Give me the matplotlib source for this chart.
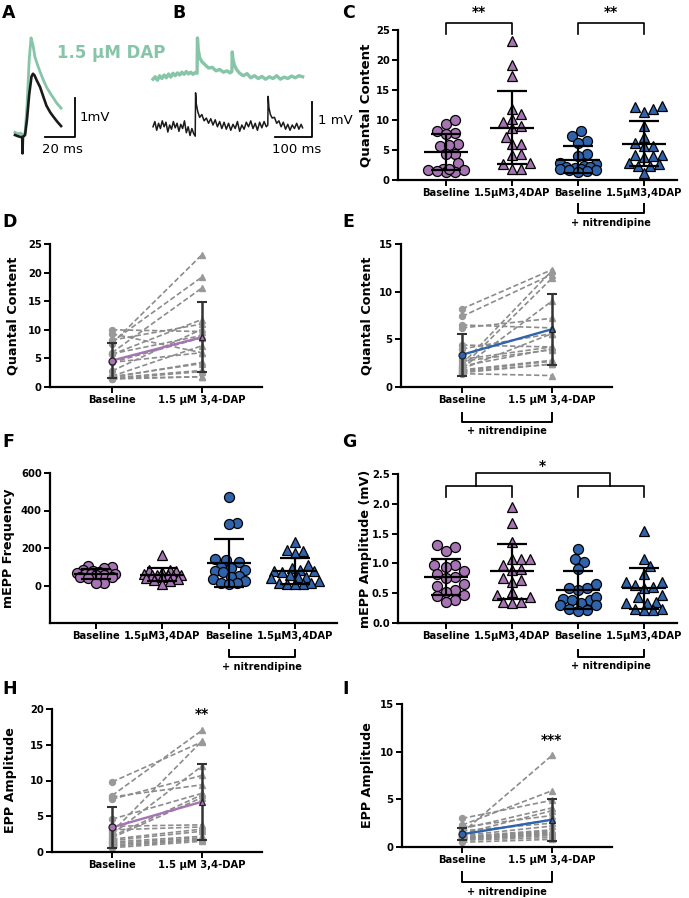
import numpy as np
import matplotlib
matplotlib.use('Agg')
import matplotlib.pyplot as plt

plt.rcParams['font.family'] = 'DejaVu Sans'
plt.rcParams['font.weight'] = 'bold'

# ---- data ----
# quantal content (paired order: baseline[i] -> dap[i])
qc_base = [9.3, 10.0, 7.9, 8.2, 7.6, 6.0, 5.7, 5.8, 4.3, 4.3, 2.8, 1.9, 1.7, 1.4, 1.4, 1.8, 1.5, 1.6]
qc_dap = [6.0, 9.7, 19.2, 11.0, 23.1, 17.3, 11.8, 9.0, 8.6, 6.0, 10.1, 7.2, 4.3, 2.7, 1.8, 4.1, 1.8, 2.9]
qc_nit_base = [8.2, 7.4, 6.5, 6.2, 4.4, 4.0, 2.9, 2.7, 2.4, 2.2, 2.1, 2.0, 1.9, 1.8, 1.7, 1.6, 1.5, 1.4]
qc_nit_dap = [12.3, 11.8, 6.2, 7.2, 4.2, 5.6, 4.2, 3.9, 12.2, 4.0, 11.4, 9.0, 5.6, 2.8, 2.7, 2.4, 2.4, 1.2]

# mEPP frequency
freq_base = [104, 100, 91, 82, 75, 70, 65, 64, 62, 61, 60, 58, 55, 45, 43, 40, 16, 11]
freq_dap = [162, 82, 82, 80, 73, 60, 58, 55, 55, 55, 52, 46, 40, 35, 29, 25, 7]
freq_nit_base = [470, 335, 330, 140, 135, 125, 100, 95, 85, 80, 70, 50, 45, 35, 25, 15, 12, 10]
freq_nit_dap = [230, 190, 185, 175, 110, 95, 85, 80, 75, 70, 55, 48, 45, 38, 25, 15, 12, 10, 8, 6]

# mEPP amplitude (mV)
amp_base = [1.31, 1.28, 1.21, 0.98, 0.98, 0.94, 0.87, 0.83, 0.78, 0.66, 0.62, 0.55, 0.52, 0.47, 0.45, 0.38, 0.35, 0.75]
amp_dap = [1.95, 1.67, 1.36, 1.08, 1.08, 1.08, 0.97, 0.89, 0.91, 0.72, 0.75, 0.69, 0.47, 0.52, 0.44, 0.35, 0.34, 0.35]
amp_nit_base = [1.25, 1.07, 1.03, 0.91, 0.65, 0.58, 0.56, 0.59, 0.39, 0.41, 0.44, 0.38, 0.34, 0.30, 0.30, 0.24, 0.21, 0.20]
amp_nit_dap = [1.54, 1.08, 0.95, 0.83, 0.69, 0.69, 0.63, 0.60, 0.58, 0.47, 0.34, 0.33, 0.44, 0.35, 0.24, 0.22, 0.24, 0.21]

# EPP amplitude (paired)
epp_base = [9.8, 7.9, 7.7, 7.4, 4.6, 3.6, 3.1, 2.8, 2.5, 2.2, 2.0, 1.8, 1.6, 1.4, 1.2, 1.0, 0.8, 0.6]
epp_dap = [15.4, 17.0, 9.4, 10.7, 8.2, 3.8, 3.5, 15.5, 12.0, 8.0, 7.6, 3.2, 2.9, 2.2, 2.0, 1.8, 1.7, 1.5]
epp_nit_base = [3.0, 2.3, 2.1, 1.9, 1.7, 1.5, 1.4, 1.3, 1.2, 1.1, 1.0, 1.0, 0.9, 0.9, 0.8, 0.8, 0.7, 0.5]
epp_nit_dap = [4.9, 5.9, 3.3, 4.1, 2.5, 9.6, 3.8, 2.9, 2.2, 1.8, 1.7, 1.6, 1.5, 1.4, 1.3, 1.2, 1.0, 0.8]

# example traces (t in ms, v in mV)
trace_A_ctrl = [(0, 0.05), (2, 0.02), (3.8, 0.0), (4.8, 0.0), (5.0, -0.42), (5.3, 0.0), (6.7, 0.05),
                (8, 0.45), (9.5, 1.1), (11, 1.55), (12, 1.62), (13, 1.58), (14.5, 1.45), (16.7, 1.28),
                (19, 1.02), (21, 0.8), (23.5, 0.63), (25.6, 0.52), (28, 0.4), (30.7, 0.28)]
trace_A_dap = [(0, 0.12), (2, 0.08), (3.8, 0.1), (5, 0.05), (6.7, 0.1), (8, 0.8), (9.5, 2.0),
               (10.7, 2.54), (12, 2.35), (13.3, 2.05), (15, 1.85), (16.7, 1.67), (19, 1.45),
               (21, 1.28), (23.5, 1.12), (25.6, 1.0), (28, 0.86), (30.7, 0.74)]
trace_B_dap = [(0, -0.12), (6, -0.05), (12, -0.15), (18, -0.02), (24, -0.1), (30, 0.0), (36, -0.08),
               (42, 0.03), (48, -0.06), (54, 0.05), (60, -0.02), (66, 0.06), (72, 0.0), (78, 0.08),
               (84, 0.02), (90, 0.1), (96, 0.03), (102, 0.08), (108, 0.02), (114, 0.07), (119, 0.05),
               (120, 1.06), (122, 0.75), (126, 0.5), (132, 0.38), (140, 0.3), (150, 0.2), (160, 0.22),
               (170, 0.12), (180, 0.16), (190, 0.08), (200, 0.12), (208, 0.06), (213, 0.1), (214, 0.66),
               (216, 0.45), (220, 0.28), (226, 0.15), (234, 0.05), (244, -0.02), (254, 0.04),
               (264, -0.08), (274, -0.02), (284, -0.1), (294, -0.04), (304, -0.12), (314, -0.05),
               (324, -0.1), (334, -0.02), (344, -0.12), (354, -0.06), (364, -0.1), (374, -0.03),
               (384, -0.08), (394, -0.02), (404, -0.05)]
trace_B_ctrl = [(0, -0.05), (5, 0.1), (10, -0.15), (15, 0.05), (20, -0.1), (25, 0.12), (30, -0.05),
                (35, 0.08), (40, -0.2), (45, 0.0), (50, -0.12), (55, 0.1), (60, -0.08), (65, 0.05),
                (70, -0.18), (75, 0.02), (80, -0.1), (85, 0.12), (90, -0.22), (95, -0.05), (100, -0.3),
                (105, -0.1), (110, -0.25), (114, -0.32), (115, 0.92), (117, 0.6), (121, 0.38),
                (126, 0.22), (132, 0.3), (138, 0.12), (144, 0.2), (150, 0.05), (156, 0.18), (162, 0.0),
                (168, 0.15), (174, -0.05), (180, 0.1), (186, -0.1), (192, 0.08), (198, -0.12),
                (204, 0.05), (210, -0.15), (216, 0.02), (222, -0.1), (228, 0.1), (234, -0.18),
                (240, 0.0), (246, -0.12), (252, 0.08), (258, -0.05), (264, 0.12), (270, -0.1),
                (276, 0.05), (282, -0.15), (288, 0.08), (294, -0.08), (300, 0.1), (306, -0.05),
                (310, 0.0), (311, 0.82), (313, 0.5), (317, 0.3), (322, 0.2), (328, 0.22), (334, 0.05),
                (340, 0.12), (346, -0.05), (352, 0.08), (358, -0.12), (364, 0.02), (370, -0.15),
                (376, 0.0), (382, -0.1), (388, 0.05), (394, -0.12), (400, 0.02), (404, -0.08)]

four_labels = ['Baseline', '1.5µM3,4DAP', 'Baseline', '1.5µM3,4DAP']
two_labels = ['Baseline', '1.5 µM 3,4-DAP']

PURPLE = '#a674b3'
BLUE = '#2f64ad'
GREEN = '#86c5a8'
GREY = '#8c8c8c'

W, H = 689, 898
fig = plt.figure(figsize=(W / 100, H / 100), dpi=100)


def px_axes(left, top, right, bottom):
    return fig.add_axes([left / W, 1 - bottom / H, (right - left) / W, (bottom - top) / H])


def style(ax, xticks, xlabels, yticks, ylabel, label_dx, ylsize=9.2, fmt=None):
    for s in ['top', 'right']:
        ax.spines[s].set_visible(False)
    for s in ['left', 'bottom']:
        ax.spines[s].set_linewidth(1.6)
    ax.tick_params(width=1.4, length=4, labelsize=7.2, pad=2)
    ax.set_xticks(xticks)
    ax.set_xticklabels(xlabels)
    ax.set_yticks(yticks)
    if fmt:
        ax.set_yticklabels([fmt % v for v in yticks])
    ax.set_ylabel(ylabel, fontsize=ylsize, fontweight='bold', va='center')
    ax.yaxis.set_label_coords(label_dx, 0.5)


def swarm(ax, x0, vals, gap, maxw):
    # GraphPad-like scatter: spread points sideways, overlap allowed beyond maxw (pixels)
    vals = np.asarray(vals, float)
    pts = ax.transData.transform(np.column_stack([np.full(len(vals), x0), vals]))
    py = pts[:, 1]
    cx = pts[0, 0]
    cands = [0.0]
    k = 1
    while k * gap / 3 <= maxw:
        cands += [k * gap / 3, -k * gap / 3]
        k += 1
    offs = np.zeros(len(vals))
    placed = []
    for i in np.argsort(py):
        best, best_d = 0.0, -1
        for off in cands:
            d = min([np.hypot(off - po, py[i] - pp) for po, pp in placed] + [1e9])
            if d >= gap:
                best = off
                break
            if d > best_d:
                best, best_d = off, d
        placed.append((best, py[i]))
        offs[i] = best
    back = ax.transData.inverted().transform(np.column_stack([cx + offs, py]))
    return back[:, 0]


def scatter_group(ax, x0, vals, marker, color, gap=9, maxw=18):
    xs = swarm(ax, x0, vals, gap, maxw)
    ax.plot(xs, vals, marker, ls='none', mfc=color, mec='black', mew=0.9, ms=7.2, zorder=2, clip_on=False)
    m, sd = np.mean(vals), np.std(vals, ddof=1)
    ax.hlines(m, x0 - 0.33, x0 + 0.33, color='black', lw=1.6, zorder=4)
    ax.errorbar(x0, m, yerr=sd, fmt='none', ecolor='black', elinewidth=1.6, capsize=10.5,
                capthick=1.6, zorder=4)


def paired(ax, base, dap, color):
    n = len(base)
    for b, d in zip(base, dap):
        ax.plot([0, 1], [b, d], ls=(0, (3.2, 1.6)), color=GREY, lw=1.2, zorder=1)
    ax.plot(np.zeros(n), base, 'o', ls='none', color='#999999', ms=4.3, zorder=2)
    ax.plot(np.ones(n), dap, '^', ls='none', color='#999999', ms=4.3, zorder=2)
    means = [np.mean(base), np.mean(dap)]
    sds = [np.std(base, ddof=1), np.std(dap, ddof=1)]
    ax.errorbar([0, 1], means, yerr=sds, fmt='none', ecolor='#333333', elinewidth=1.8,
                capsize=3.5, capthick=1.5, zorder=3)
    ax.plot([0, 1], means, '-', color=color, lw=1.7, zorder=4)
    ax.plot([0], [means[0]], 'o', mfc=color, mec='#222222', ms=5, mew=0.9, zorder=5)
    ax.plot([1], [means[1]], '^', mfc=color, mec='#222222', ms=5, mew=0.9, zorder=5)


def nit_bracket(ax, x0, x1, y_leg, y_bar, y_text):
    tr = ax.get_xaxis_transform()
    ax.plot([x0, x0, x1, x1], [y_leg, y_bar, y_bar, y_leg], color='black', lw=1.4,
            transform=tr, clip_on=False)
    ax.text((x0 + x1) / 2, y_text, '+ nitrendipine', transform=tr, ha='center', va='center',
            fontsize=7)


def sig_bracket(ax, x0, x1, y_bar, y_leg, stars, y_star):
    tr = ax.get_xaxis_transform()
    ax.plot([x0, x0, x1, x1], [y_leg, y_bar, y_bar, y_leg], color='black', lw=1.2,
            transform=tr, clip_on=False)
    if stars:
        ax.text((x0 + x1) / 2, y_star, stars, transform=tr, ha='center', va='center', fontsize=10)


def letter(px, py, s):
    fig.text(px / W, 1 - py / H, s, fontsize=12.5, fontweight='bold', va='top', ha='left')


# ---- A: evoked EPPs ----
axA = px_axes(0, 25, 150, 160)
axA.set_xlim(-10, 90)
axA.set_ylim(-0.59, 2.87)
axA.axis('off')
tA, vA = np.array(trace_A_dap).T
axA.plot(tA, vA, color=GREEN, lw=2.0)
tA, vA = np.array(trace_A_ctrl).T
axA.plot(tA, vA, color='#1a1a1a', lw=1.9)
axA.plot([20, 40, 40], [0, 0, 1], color='black', lw=1.3)
axA.text(43.3, 0.49, '1mV', fontsize=9.5, fontweight='normal', va='center', ha='left')
axA.text(31.3, -0.33, '20 ms', fontsize=9.5, fontweight='normal', va='center', ha='center')
axA.text(28, 2.15, '1.5 µM DAP', fontsize=12, color=GREEN, va='center', ha='left')

# ---- B: spontaneous mEPPs ----
axB = px_axes(145, 25, 340, 160)
axB.set_xlim(-21.6, 505)
axB.set_ylim(-1.0, 2.86)
axB.axis('off')
tB, vB = np.array(trace_B_dap).T
axB.plot(tB, vB + 1.43, color=GREEN, lw=2.4)
tB, vB = np.array(trace_B_ctrl).T
axB.plot(tB, vB, color='#1a1a1a', lw=1.1)
axB.plot([330, 430, 430], [-0.34, -0.34, 0.66], color='black', lw=1.3)
axB.text(446, 0.14, '1 mV', fontsize=9.5, fontweight='normal', va='center', ha='left')
axB.text(389, -0.71, '100 ms', fontsize=9.5, fontweight='normal', va='center', ha='center')

# ---- C: quantal content scatter ----
axC = px_axes(398, 30, 677, 180)
axC.set_xlim(-0.73, 3.5)
axC.set_ylim(0, 25)
style(axC, [0, 1, 2, 3], four_labels, [0, 5, 10, 15, 20, 25], 'Quantal Content', -0.115, ylsize=9.6)
scatter_group(axC, 0, qc_base, 'o', PURPLE)
scatter_group(axC, 1, qc_dap, '^', PURPLE)
scatter_group(axC, 2, qc_nit_base, 'o', BLUE)
scatter_group(axC, 3, qc_nit_dap, '^', BLUE)
sig_bracket(axC, 0, 1, 1.047, 0.973, '**', 1.12)
sig_bracket(axC, 2, 3, 1.047, 0.973, '**', 1.12)
nit_bracket(axC, 2, 3, -0.16, -0.22, -0.285)

# ---- D ----
axD = px_axes(50, 244, 262, 387)
axD.set_xlim(-0.69, 1.67)
axD.set_ylim(0, 25)
style(axD, [0, 1], two_labels, [0, 5, 10, 15, 20, 25], 'Quantal Content', -0.175)
paired(axD, qc_base, qc_dap, PURPLE)

# ---- E ----
axE = px_axes(401, 244, 612, 387)
axE.set_xlim(-0.68, 1.67)
axE.set_ylim(0, 15)
style(axE, [0, 1], two_labels, [0, 5, 10, 15], 'Quantal Content', -0.161)
paired(axE, qc_nit_base, qc_nit_dap, BLUE)
nit_bracket(axE, 0, 1, -0.182, -0.245, -0.31)

# ---- F ----
axF = px_axes(50, 473, 337, 623)
axF.set_xlim(-0.69, 3.63)
axF.set_ylim(-200, 600)
style(axF, [0, 1, 2, 3], four_labels, [0, 200, 400, 600], 'mEPP Frequency', -0.143)
scatter_group(axF, 0, freq_base, 'o', PURPLE, gap=8, maxw=20)
scatter_group(axF, 1, freq_dap, '^', PURPLE, gap=8, maxw=20)
scatter_group(axF, 2, freq_nit_base, 'o', BLUE, gap=8, maxw=18)
scatter_group(axF, 3, freq_nit_dap, '^', BLUE, gap=8, maxw=24)
nit_bracket(axF, 2, 3, -0.18, -0.227, -0.29)

# ---- G ----
axG = px_axes(398, 474, 677, 623)
axG.set_xlim(-0.73, 3.5)
axG.set_ylim(0, 2.5)
style(axG, [0, 1, 2, 3], four_labels, [0, 0.5, 1.0, 1.5, 2.0, 2.5], 'mEPP Amplitude (mV)', -0.118,
      fmt='%.1f')
scatter_group(axG, 0, amp_base, 'o', PURPLE)
scatter_group(axG, 1, amp_dap, '^', PURPLE)
scatter_group(axG, 2, amp_nit_base, 'o', BLUE)
scatter_group(axG, 3, amp_nit_dap, '^', BLUE)
sig_bracket(axG, 0, 1, 0.919, 0.846, None, 0)
sig_bracket(axG, 2, 3, 0.919, 0.846, None, 0)
sig_bracket(axG, 0.45, 2.48, 1.007, 0.919, '*', 1.055)
nit_bracket(axG, 2, 3, -0.18, -0.228, -0.29)

# ---- H ----
axH = px_axes(52, 709, 262, 852)
axH.set_xlim(-0.67, 1.67)
axH.set_ylim(0, 20)
style(axH, [0, 1], two_labels, [0, 5, 10, 15, 20], 'EPP Amplitude', -0.2)
paired(axH, epp_base, epp_dap, PURPLE)
axH.text(1, 0.965, '**', transform=axH.get_xaxis_transform(), ha='center', va='center', fontsize=10)

# ---- I ----
axI = px_axes(402, 704, 612, 847)
axI.set_xlim(-0.67, 1.67)
axI.set_ylim(0, 15)
style(axI, [0, 1], two_labels, [0, 5, 10, 15], 'EPP Amplitude', -0.162)
paired(axI, epp_nit_base, epp_nit_dap, BLUE)
axI.text(1, 0.745, '***', transform=axI.get_xaxis_transform(), ha='center', va='center', fontsize=10)
nit_bracket(axI, 0, 1, -0.175, -0.245, -0.315)

letter(2, 4, 'A')
letter(172, 4, 'B')
letter(342, 4, 'C')
letter(2, 213, 'D')
letter(342, 213, 'E')
letter(2, 433, 'F')
letter(342, 433, 'G')
letter(2, 680, 'H')
letter(342, 680, 'I')

fig.savefig('out.png', dpi=100)
